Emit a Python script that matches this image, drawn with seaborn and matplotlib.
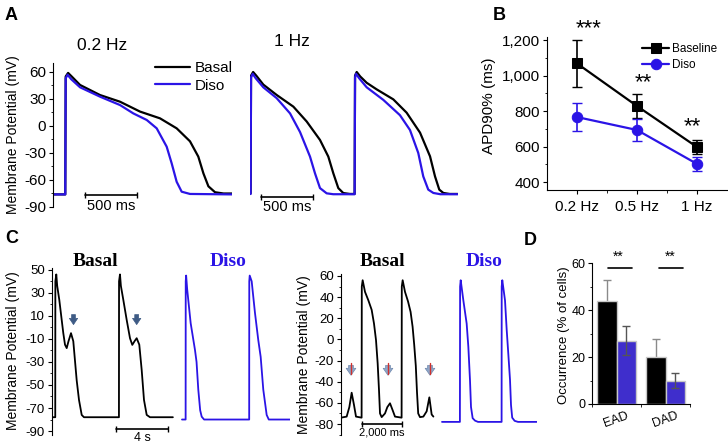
import numpy as np
import pandas as pd
import seaborn as sns
import matplotlib.pyplot as plt
from matplotlib.ticker import MultipleLocator, StrMethodFormatter

# ---- data ------------------------------------------------------------------
# A: 0.2 Hz traces (time ms, membrane potential mV)
t_a02_basal = [0, 118, 122, 145, 180, 260, 452, 644, 837, 1029, 1189, 1317, 1397, 1446, 1494, 1558, 1640, 1721]
v_a02_basal = [-76, -76, 55, 59, 55, 45.6, 34.4, 27, 16, 8.5, -2.6, -17, -34, -52.6, -67, -73.6, -75, -75]
t_a02_diso = [0, 118, 122, 140, 175, 260, 452, 644, 772, 901, 997, 1093, 1141, 1189, 1237, 1317, 1721]
v_a02_diso = [-76, -76, 53, 57, 52, 43, 32.6, 23.3, 14, 6.7, -2.6, -23, -41.5, -62, -73, -75.5, -76]

# A: 1 Hz traces
t_a1_basal = [0, 6, 10, 30, 60, 128, 256, 417, 545, 673, 753, 801, 849, 897, 960,
              1006, 1010, 1026, 1060, 1122, 1218, 1378, 1506, 1635, 1731, 1779, 1820, 1859, 1920, 1997]
v_a1_basal = [-75, -75, 56, 60, 56, 46, 34.5, 21.5, 5, -15.5, -34, -52.5, -69, -74.5, -75.5,
              -75.5, 56, 60, 55, 48, 40.7, 29.6, 14.8, -7.4, -33.7, -56, -70.7, -74.4, -75.5, -75.5]
t_a1_diso = [0, 6, 10, 26, 55, 128, 256, 385, 481, 577, 625, 673, 737, 800,
             1006, 1010, 1019, 1050, 1122, 1282, 1442, 1538, 1618, 1666, 1714, 1763, 1830, 1997]
v_a1_diso = [-75.5, -75.5, 54, 58, 53, 43, 31, 14, -6.7, -34, -52.6, -69, -74.8, -75.8,
             -75.8, 54, 58, 53, 43, 29, 12, -4.4, -30, -56, -70.7, -74.4, -75.8, -75.8]

# B: APD90 (ms)
freq_labels = ['0.2 Hz', '0.5 Hz', '1 Hz']
apd_baseline = [1068, 828, 597]
apd_baseline_err = [132, 70, 38]
apd_diso = [766, 693, 502]
apd_diso_err = [77, 62, 40]
apd_stars = ['***', '**', '**']

# C left: EAD traces
t_c1_basal = [0, 250, 258, 330, 400, 560, 746, 869, 1000, 1131, 1270, 1462, 1638, 1900, 2077, 2285, 2460,
              5150, 5158, 5230, 5300, 5485, 5746, 6000, 6177, 6350, 6515, 6715, 6900, 7077, 7285, 7540, 9300]
v_c1_basal = [-78, -78, 40, 46, 36, 24, 6.5, -5, -15, -18, -12, -5, -12, -46, -63, -76, -78,
              -78, 40, 46, 36, 24, 6.5, -9.4, -15.2, -12, -9.4, -15, -37, -63, -76, -78, -78]
t_c1_diso = [10000, 10280, 10288, 10320, 10400, 10669, 11000, 11120, 11254, 11400, 11516, 11700,
             15170, 15177, 15210, 15362, 15615, 15869, 16054, 16254, 16515, 16677, 18300]
v_c1_diso = [-80, -80, 40, 45, 33, 3.6, -19.6, -30, -54, -72, -77.5, -80,
             -80, 40, 45, 40, 12.6, -11, -25.6, -54, -76, -80, -80]
ead_arrow_t = [1654, 6515]

# C right: DAD traces
t_c2_basal = [0, 283, 417, 533, 650, 750, 1030, 1040, 1083, 1200, 1367, 1533, 1650, 1750, 1833, 1900, 1950, 2033,
              2200, 2317, 2450, 2583, 2700, 3030, 3040, 3083, 3200, 3350, 3480, 3580, 3660, 3740, 3800, 3860, 3950,
              4117, 4283, 4417, 4533, 4620]
v_c2_basal = [-74, -73, -64, -50.4, -62, -73, -74, 50, 56, 45, 37, 28, 15, -0.6, -22.6, -48, -70, -73.5,
              -70, -64, -60.4, -67, -73, -74, 50, 56, 45, 36, 26, 12, -5, -25, -50, -70, -73.5,
              -73, -68, -54.8, -71, -73]
t_c2_diso = [5050, 5945, 5955, 5985, 6117, 6283, 6367, 6450, 6500, 6583, 6700, 6850,
             8030, 8035, 8065, 8200, 8285, 8370, 8450, 8500, 8560, 8680, 8850, 9785]
v_c2_diso = [-78, -78, 50, 56, 37, 15, -7, -38.7, -63.9, -74.5, -76.8, -78,
             -78, 50, 56, 37, 9, -15, -38, -62, -74, -77, -78, -78]
dad_arrow_t = [500, 2350, 4450]

# D: occurrence (% of cells)
event_types = ['EAD', 'DAD']
occ_basal = [44, 20]
occ_basal_err = [8.8, 7.6]
occ_diso = [27, 10]
occ_diso_err = [6.2, 3.2]

# ---- style -----------------------------------------------------------------
sns.set_style('ticks', {'axes.edgecolor': 'black', 'xtick.color': 'black', 'ytick.color': 'black',
                        'text.color': 'black', 'axes.labelcolor': 'black'})
plt.rcParams['font.family'] = ['Liberation Sans', 'DejaVu Sans']
plt.rcParams['axes.unicode_minus'] = False
plt.rcParams['xtick.major.size'] = 3
plt.rcParams['ytick.major.size'] = 3
plt.rcParams['xtick.minor.size'] = 1.8
plt.rcParams['ytick.minor.size'] = 1.8

BLUE = '#2b14e6'
W, H = 728, 443
fig = plt.figure(figsize=(W / 100, H / 100), dpi=100)


def px_axes(x0, y0, x1, y1):
    return fig.add_axes([x0 / W, 1 - y1 / H, (x1 - x0) / W, (y1 - y0) / H])


def trace(ax, t, v, color, lw, label=None):
    sns.lineplot(x=t, y=v, ax=ax, color=color, lw=lw, estimator=None, sort=False, label=label)


def scale_bar(ax, t0, t1, y, text, ty, fs):
    ax.plot([t0, t1], [y, y], color='black', lw=1.2, marker='|', ms=5, clip_on=False)
    ax.text((t0 + t1) / 2, ty, text, ha='center', va='center', fontsize=fs, clip_on=False)


def panel_letter(x, y, s):
    fig.text(x / W, 1 - y / H, s, fontsize=13, fontweight='bold', ha='left', va='center')


# ---- A ---------------------------------------------------------------------
a1 = px_axes(53, 63, 232, 207)
trace(a1, t_a02_basal, v_a02_basal, 'black', 1.6, 'Basal')
trace(a1, t_a02_diso, v_a02_diso, BLUE, 1.6, 'Diso')
a1.set_xlim(0, 1721)
a1.set_ylim(-90, 70)
a1.set_xticks([])
a1.yaxis.set_major_locator(MultipleLocator(30))
a1.yaxis.set_minor_locator(MultipleLocator(15))
a1.tick_params(axis='y', labelsize=11, pad=2)
sns.despine(ax=a1, bottom=True)
a1.set_ylabel('Membrane Potential (mV)', fontsize=10)
a1.yaxis.set_label_coords(-0.184, 0.5)
scale_bar(a1, 308, 808, -76.7, '500 ms', -89, 10.5)
a1.legend(loc='upper left', bbox_to_anchor=(155 / W, 1 - 61 / H), bbox_transform=fig.transFigure,
          frameon=False, fontsize=11, handlelength=2.3, handletextpad=0.3, labelspacing=0.25,
          borderpad=0, borderaxespad=0)

a2 = px_axes(250, 63, 458, 207)
trace(a2, t_a1_basal, v_a1_basal, 'black', 1.6)
trace(a2, t_a1_diso, v_a1_diso, BLUE, 1.6)
a2.set_xlim(0, 2000)
a2.set_ylim(-90, 70)
a2.axis('off')
scale_bar(a2, 106, 606, -78.5, '500 ms', -89.7, 10.5)

fig.text(102 / W, 1 - 45 / H, '0.2 Hz', fontsize=12.5, ha='center', va='center')
fig.text(292 / W, 1 - 42 / H, '1 Hz', fontsize=12.5, ha='center', va='center')
panel_letter(5, 15, 'A')

# ---- B ---------------------------------------------------------------------
b = px_axes(547, 37, 727, 190)
xpos = [0, 1, 2]
b.errorbar(xpos, apd_baseline, yerr=apd_baseline_err, fmt='none', ecolor='black', elinewidth=1.2, capsize=3.5)
b.errorbar(xpos, apd_diso, yerr=apd_diso_err, fmt='none', ecolor=BLUE, elinewidth=1.2, capsize=3.5)
sns.lineplot(x=xpos, y=apd_baseline, ax=b, color='black', lw=1.6, marker='s', ms=7, mec='black',
             label='Baseline', estimator=None, sort=False)
sns.lineplot(x=xpos, y=apd_diso, ax=b, color=BLUE, lw=1.6, marker='o', ms=7.5, mec=BLUE,
             label='Diso', estimator=None, sort=False)
b.set_xlim(-0.5, 2.5)
b.set_ylim(355, 1217)
b.set_xticks(xpos, freq_labels)
b.set_xticks([0.5, 1.5], minor=True)
b.yaxis.set_major_locator(MultipleLocator(200))
b.yaxis.set_minor_locator(MultipleLocator(100))
b.yaxis.set_major_formatter(StrMethodFormatter('{x:,.0f}'))
b.tick_params(labelsize=11, pad=2)
b.tick_params(axis='x', pad=4)
sns.despine(ax=b)
b.set_ylabel('APD90% (ms)', fontsize=11)
b.yaxis.set_label_coords(-0.283, 0.55)
for x, y, s in zip([0.2, 1.1, 1.93], [1262, 958, 710], apd_stars):
    b.text(x, y, s, fontsize=16, ha='center', va='center', clip_on=False)
b.legend(loc='upper left', bbox_to_anchor=(642 / W, 1 - 43 / H), bbox_transform=fig.transFigure,
         frameon=False, fontsize=8.5, handlelength=2.3, handletextpad=0.25, labelspacing=0.35,
         borderpad=0, borderaxespad=0)
panel_letter(493, 15, 'B')

# ---- C left ---------------------------------------------------------------
c1 = px_axes(52, 267.5, 290, 434.5)
trace(c1, t_c1_basal, v_c1_basal, 'black', 1.3)
trace(c1, t_c1_diso, v_c1_diso, BLUE, 1.3)
c1.set_xlim(0, 18310)
c1.set_ylim(-93, 52)
c1.set_xticks([])
c1.set_yticks(np.arange(-90, 51, 20))
c1.yaxis.set_minor_locator(MultipleLocator(10))
c1.tick_params(axis='y', labelsize=9.5, pad=2)
sns.despine(ax=c1, bottom=True)
c1.set_ylabel('Membrane Potential (mV)', fontsize=10)
c1.yaxis.set_label_coords(-0.134, 0.5)
for t in ead_arrow_t:
    c1.annotate('', xy=(t, 0), xytext=(t, 13.5),
                arrowprops=dict(arrowstyle='simple,head_length=0.45,head_width=0.6,tail_width=0.28',
                                fc='#3e5b85', ec='#3e5b85', lw=0.5, mutation_scale=10))
scale_bar(c1, 4923, 8923, -88.3, '4 s', -96, 9)

# ---- C right --------------------------------------------------------------
c2 = px_axes(341, 274.3, 537, 435)
trace(c2, t_c2_basal, v_c2_basal, 'black', 1.3)
trace(c2, t_c2_diso, v_c2_diso, BLUE, 1.3)
c2.set_xlim(0, 9800)
c2.set_ylim(-90.4, 61.6)
c2.set_xticks([])
c2.set_yticks(np.arange(-80, 61, 20))
c2.yaxis.set_minor_locator(MultipleLocator(10))
c2.tick_params(axis='y', labelsize=9.5, pad=2)
sns.despine(ax=c2, bottom=True)
c2.set_ylabel('Membrane Potential (mV)', fontsize=10)
c2.yaxis.set_label_coords(-0.153, 0.5)
for t in dad_arrow_t:
    c2.annotate('', xy=(t, -36.5), xytext=(t, -22),
                arrowprops=dict(arrowstyle='simple,head_length=0.5,head_width=0.7,tail_width=0.35',
                                fc='#8ea6c8', ec='#6f88ad', lw=0.5, mutation_scale=10))
    c2.plot([t, t], [-22.5, -33], color='#d0312d', lw=1, zorder=5)
scale_bar(c2, 1035, 3035, -80, '2,000 ms', -88.5, 8)

for x, s, col in [(95, 'Basal', 'black'), (228, 'Diso', BLUE), (382, 'Basal', 'black'), (484, 'Diso', BLUE)]:
    fig.text(x / W, 1 - 261 / H, s, fontsize=14, fontweight='bold', family='Liberation Serif',
             color=col, ha='center', va='center')
panel_letter(5, 239, 'C')

# ---- D ---------------------------------------------------------------------
d = px_axes(592, 262.7, 690, 404)
occ_df = pd.DataFrame({'type': event_types * 2,
                       'group': ['Basal'] * 2 + ['Diso'] * 2,
                       'occ': occ_basal + occ_diso})
sns.barplot(data=occ_df, x='type', y='occ', hue='group', palette=['black', BLUE], errorbar=None,
            edgecolor='#c8c8c8', linewidth=1, width=0.8, legend=False, ax=d)
xb = [p.get_x() + p.get_width() / 2 for p in d.containers[0]]
xd = [p.get_x() + p.get_width() / 2 for p in d.containers[1]]
d.errorbar(xb, occ_basal, yerr=occ_basal_err, fmt='none', ecolor='#8a8a8a', elinewidth=1, capsize=3, zorder=0.5)
d.errorbar(xd, occ_diso, yerr=occ_diso_err, fmt='none', ecolor='#555555', elinewidth=1, capsize=3, zorder=3)
d.set_xlim(-0.48, 1.48)
d.set_ylim(0, 60.2)
d.set_yticks([0, 20, 40, 60])
d.yaxis.set_minor_locator(MultipleLocator(10))
d.set_xticks([-0.5, 0.5, 1.5], minor=True)
d.tick_params(axis='x', which='major', length=0, labelsize=9, rotation=20, pad=4)
d.tick_params(axis='y', labelsize=9, pad=1.5)
d.set_xlabel('')
d.set_ylabel('Occurrence (% of cells)', fontsize=9.5)
d.yaxis.set_label_coords(-0.224, 0.49)
sns.despine(ax=d)
for (x0, x1), xs in zip([(-0.18, 0.32), (0.86, 1.36)], [0.04, 1.1]):
    d.plot([x0, x1], [57.9, 57.9], color='black', lw=1.2, clip_on=False)
    d.text(xs, 62.7, '**', fontsize=10, ha='center', va='center', clip_on=False)
panel_letter(524, 240, 'D')

fig.savefig('out.png', dpi=100)
